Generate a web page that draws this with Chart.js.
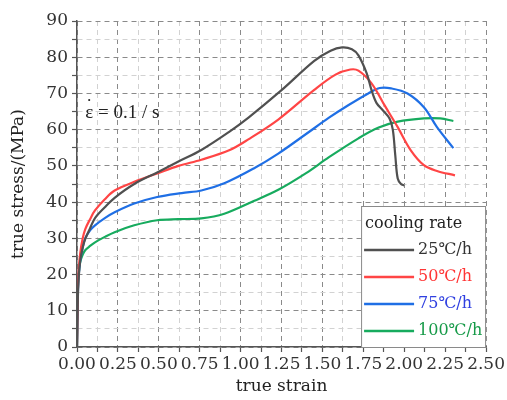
<!DOCTYPE html>
<html>
<head>
<meta charset="utf-8">
<script src="https://cdn.jsdelivr.net/npm/chart.js@4/dist/chart.umd.min.js"></script>
<style>
html,body{margin:0;padding:0;background:#fff;}
#wrap{width:507px;height:400px;position:relative;}
</style>
</head>
<body>
<div id="wrap"><canvas id="c" width="507" height="400"></canvas></div>
<script>
// ---- data ----
const seriesLabels = ['25\u2103/h', '50\u2103/h', '75\u2103/h', '100\u2103/h'];
const legendTitle = 'cooling rate';
const annotSymbol = '\u03B5';
const annotDot = '\u02D9';
const annotRest = ' = 0.1 / s';

const strain25 = [0, 0.005, 0.01, 0.02, 0.035, 0.05, 0.08, 0.11, 0.17, 0.23, 0.35, 0.49, 0.62, 0.76, 0.93, 1.05, 1.25, 1.45, 1.55, 1.62, 1.68, 1.72, 1.77, 1.80, 1.83, 1.87, 1.91, 1.93, 1.945, 1.96, 1.98, 2.00];
const stress25 = [0, 13, 19, 24, 27.5, 29.8, 32.8, 35.6, 38.6, 41.2, 45, 48.2, 51.2, 54.4, 59.4, 63.4, 70.9, 79, 81.8, 82.7, 82.2, 80.5, 75.6, 70.9, 67.4, 65.3, 63.1, 60, 53, 46.5, 45, 44.6];

const strain50 = [0, 0.005, 0.01, 0.02, 0.035, 0.05, 0.08, 0.11, 0.17, 0.23, 0.35, 0.49, 0.62, 0.76, 0.93, 1.05, 1.23, 1.45, 1.58, 1.67, 1.72, 1.80, 1.88, 1.96, 2.04, 2.12, 2.20, 2.31];
const stress50 = [0, 15, 21, 26, 30, 32.5, 35.3, 37.7, 40.8, 43.2, 45.6, 47.9, 50, 51.7, 54.3, 57.4, 62.8, 71, 75.2, 76.6, 76.3, 72.8, 66.7, 60.7, 54.3, 50.2, 48.6, 47.4];

const strain75 = [0, 0.005, 0.01, 0.02, 0.035, 0.05, 0.08, 0.11, 0.17, 0.23, 0.35, 0.49, 0.64, 0.76, 0.90, 1.08, 1.23, 1.40, 1.54, 1.66, 1.78, 1.85, 1.92, 2.02, 2.12, 2.20, 2.30];
const stress75 = [0, 14, 19.5, 24, 27.5, 30, 32.2, 33.6, 35.6, 37.2, 39.6, 41.4, 42.5, 43.2, 45.2, 49.3, 53.4, 58.8, 63.3, 66.8, 70, 71.5, 71.4, 70, 66.2, 60.7, 54.9];

const strain100 = [0, 0.005, 0.01, 0.02, 0.035, 0.05, 0.08, 0.11, 0.17, 0.23, 0.35, 0.49, 0.62, 0.76, 0.90, 1.08, 1.23, 1.40, 1.54, 1.72, 1.84, 1.96, 2.12, 2.22, 2.30];
const stress100 = [0, 15, 20, 23.5, 25.5, 26.7, 27.9, 28.9, 30.4, 31.7, 33.6, 35, 35.3, 35.5, 36.8, 40.3, 43.4, 48, 52.4, 57.6, 60.5, 62.2, 63.1, 63.1, 62.4];

const lineColors = ['#505050', '#ff4545', '#1f6fe5', '#17ab5e'];
const textColors = ['#333333', '#ff3535', '#3040e0', '#169a48'];

// ---- build ----
function pts(xs, ys){ return xs.map((x,i)=>({x:x, y:ys[i]})); }
const allX = [strain25, strain50, strain75, strain100];
const allY = [stress25, stress50, stress75, stress100];

const FONT = '"DejaVu Serif", serif';
const major = '#8a8a8a', minor = '#d2d2d2';

const legendPlugin = {
  id: 'boxLegend',
  afterDraw(chart){
    const ctx = chart.ctx, a = chart.chartArea;
    const w = 125, h = 141;
    const x0 = a.right - w, y0 = a.bottom - h;
    ctx.save();
    ctx.fillStyle = '#fff';
    ctx.fillRect(x0, y0, w, h);
    ctx.strokeStyle = '#8a8a8a';
    ctx.lineWidth = 1;
    ctx.strokeRect(x0 + 0.5, y0 + 0.5, w - 1, h);
    ctx.font = '16px ' + FONT;
    ctx.textBaseline = 'middle';
    ctx.textAlign = 'left';
    ctx.fillStyle = '#222';
    ctx.fillText(legendTitle, x0 + 4, y0 + 18);
    chart.data.datasets.forEach((ds, i) => {
      const y = y0 + 44 + i * 27;
      ctx.strokeStyle = ds.borderColor;
      ctx.lineWidth = 2.5;
      ctx.beginPath();
      ctx.moveTo(x0 + 3, y);
      ctx.lineTo(x0 + 53, y);
      ctx.stroke();
      ctx.fillStyle = textColors[i];
      ctx.fillText(ds.label, x0 + 57, y);
    });
    ctx.restore();
  }
};

const annotPlugin = {
  id: 'annot',
  afterDatasetsDraw(chart){
    const ctx = chart.ctx;
    const x = chart.scales.x.getPixelForValue(0.05);
    const y = chart.scales.y.getPixelForValue(64.5);
    ctx.save();
    ctx.font = '19px "Liberation Serif", serif';
    ctx.fillStyle = '#222';
    ctx.textBaseline = 'middle';
    ctx.textAlign = 'left';
    ctx.fillText(annotSymbol, x, y);
    const w = ctx.measureText(annotSymbol).width;
    ctx.textAlign = 'center';
    ctx.fillText(annotDot, x + w / 2, y - 6);
    ctx.textAlign = 'left';
    ctx.fillText(annotRest, x + w, y);
    ctx.restore();
  }
};

new Chart(document.getElementById('c'), {
  type: 'line',
  data: {
    datasets: seriesLabels.map((lab, i) => ({
      label: lab,
      data: pts(allX[i], allY[i]),
      borderColor: lineColors[i],
      backgroundColor: lineColors[i],
      borderWidth: 2.2,
      pointRadius: 0,
      fill: false,
      tension: 0.35
    }))
  },
  options: {
    responsive: false,
    animation: false,
    devicePixelRatio: 1,
    layout: { padding: { left: 0, right: 18, top: 21, bottom: 0 } },
    plugins: { legend: { display: false }, tooltip: { enabled: false } },
    scales: {
      x: {
        type: 'linear',
        min: 0, max: 2.5,
        afterFit: s => { s.height = 53; },
        ticks: {
          stepSize: 0.125,
          autoSkip: false,
          maxRotation: 0,
          padding: 2,
          color: '#333',
          font: { family: FONT, size: 17 },
          callback: v => (Math.round(v / 0.125) % 2 === 0) ? v.toFixed(2) : ''
        },
        grid: {
          color: c => (Math.round(c.tick.value / 0.125) % 2 === 0) ? major : minor,
          lineWidth: 1,
          tickLength: 5,
          tickColor: '#555',
          tickWidth: 1.2
        },
        border: { color: '#555', width: 1.5, dash: [5, 4] },
        title: {
          display: true, text: 'true strain',
          color: '#222',
          font: { family: FONT, size: 17 },
          padding: { top: 0, bottom: 3 }
        }
      },
      y: {
        type: 'linear',
        min: 0, max: 90,
        afterFit: s => { s.width = 77; },
        ticks: {
          stepSize: 5,
          autoSkip: false,
          padding: 4,
          color: '#333',
          font: { family: FONT, size: 17 },
          callback: v => (Math.round(v / 5) % 2 === 0) ? String(v) : ''
        },
        grid: {
          color: c => (Math.round(c.tick.value / 5) % 2 === 0) ? major : minor,
          lineWidth: 1,
          tickLength: 5,
          tickColor: '#555',
          tickWidth: 1.2
        },
        border: { color: '#555', width: 1.5, dash: [5, 4] },
        title: {
          display: true, text: 'true stress/(MPa)',
          color: '#222',
          font: { family: FONT, size: 17 },
          padding: { top: 8, bottom: 0 }
        }
      }
    }
  },
  plugins: [annotPlugin, legendPlugin]
});
</script>
</body>
</html>
